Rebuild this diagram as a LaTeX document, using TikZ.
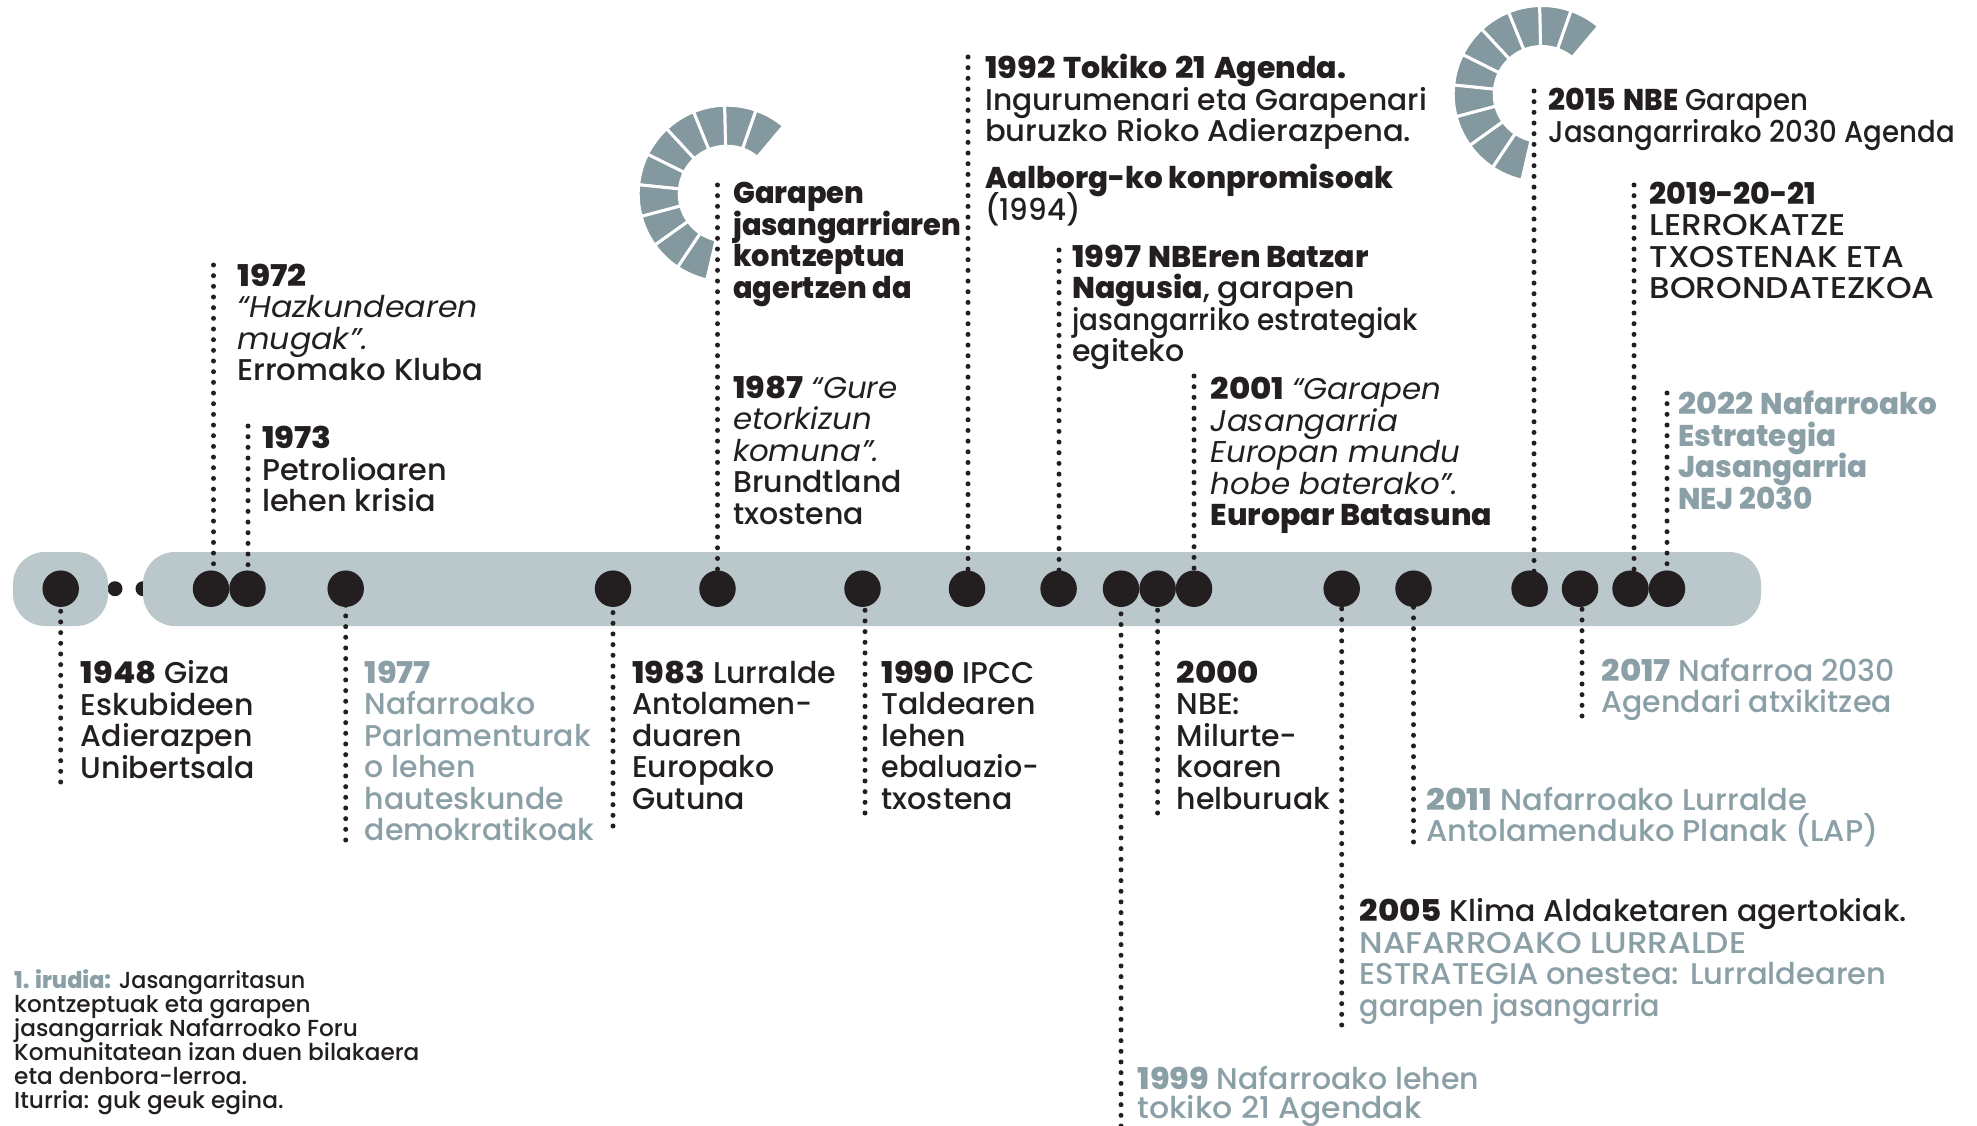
\documentclass[tikz,border=0pt]{standalone}
\usepackage{fontspec}
\setmainfont[BoldFont={Poppins ExtraBold},ItalicFont={Poppins Italic},ItalicFeatures={FakeStretch=1.03},BoldItalicFont={Poppins Bold Italic}]{Poppins Medium}
\definecolor{inkblack}{HTML}{231F20}
\definecolor{barblue}{HTML}{BAC7CB}
\definecolor{txtgrey}{HTML}{8BA0A6}
\definecolor{logogrey}{HTML}{83989F}
\newcommand{\yrb}[1]{\textbf{\scalebox{1.08}[1]{#1}}}
\newcommand{\lsx}[2]{\scalebox{#1}[1]{#2}}
\tikzset{
  bartrack/.style={fill=barblue,rounded corners=32pt},
  evdot/.style={circle,fill=inkblack,minimum size=36.5pt,inner sep=0pt},
  smalldot/.style={circle,fill=inkblack,minimum size=15pt,inner sep=0pt},
  dotline/.style={inkblack,line width=5pt,line cap=round,dash pattern=on 0pt off 10.67pt},
  evtxt/.style={anchor=north west,align=left,inner sep=0pt,text=inkblack,
    font=\fontsize{30}{31.5}\selectfont,execute at begin node={\lineskiplimit=-100pt\strut}},
  greytxt/.style={evtxt,text=txtgrey},
  captxt/.style={anchor=north west,align=left,inner sep=0pt,text=inkblack,
    font=\fontsize{23.2}{24}\selectfont,execute at begin node={\lineskiplimit=-100pt\strut}},
  sx/.style={xscale=#1,transform shape}
}
\begin{document}
\begin{tikzpicture}[x=1pt,y=-1pt]
  \useasboundingbox (0,0) rectangle (1977,1126);

  % logos
  \foreach \cx/\cy in {726.7/193.7,1541.7/94}
    \foreach \k in {0,...,9}
      \fill[logogrey,draw=white,line width=3pt]
        ({\cx+88.5*cos(50+20.7*\k)},{\cy-88.5*sin(50+20.7*\k)})
        arc[start angle={-50-20.7*\k},end angle={-50-20.7*(\k+1)},radius=88.5]
        -- ({\cx+47.5*cos(50+20.7*(\k+1))},{\cy-47.5*sin(50+20.7*(\k+1))})
        arc[start angle={-50-20.7*(\k+1)},end angle={-50-20.7*\k},radius=47.5]
        -- cycle;

  % timeline
  \node[smalldot] (s1) at (115,588.7) {};
  \node[smalldot] (s2) at (143,588.7) {};
  \fill[bartrack]  (13,552)  rectangle (108,626);
  \fill[bartrack]  (143,552) rectangle (1761,626);

  \foreach \yr/\px in {1948/60.7,1972/211,1973/247.5,1977/345.7,1983/613,1987/717.5,
                       1990/862.5,1992/967,1997/1058.6,1999/1121,2000/1157.6,2001/1194,
                       2005/1341.7,2011/1413.5,2015/1529.6,2017/1580,2019/1630.5,2022/1667}
    \node[evdot] (d\yr) at (\px,588.7) {};

  % free ends
  \coordinate (e1948) at (60.7,782);
  \coordinate (e1972) at (213.5,265);
  \coordinate (e1973) at (248,426);
  \coordinate (e1977) at (345.7,840);
  \coordinate (e1983) at (613,826);
  \coordinate (e1987) at (717.5,185);
  \coordinate (e1990) at (865,813);
  \coordinate (e1992) at (968,57);
  \coordinate (e1997) at (1059,250);
  \coordinate (e1999) at (1121,1126);
  \coordinate (e2000) at (1157.6,813);
  \coordinate (e2001) at (1194,376);
  \coordinate (e2005) at (1341.7,1025);
  \coordinate (e2011) at (1413.5,842);
  \coordinate (e2015) at (1534,91);
  \coordinate (e2017) at (1582,716);
  \coordinate (e2019) at (1634,185);
  \coordinate (e2022) at (1667,393);

  \foreach \yr in {1948,1972,1973,1977,1983,1987,1990,1992,1997,1999,2000,2001,2005,2011,2015,2017,2019,2022}
    \draw[dotline] (e\yr) -- (e\yr |- d\yr);

  % texts, top = baseline - 22
  \node[evtxt]   (t1948) at (80.7,660.6)  {\yrb{1948} Giza\\Eskubideen\\Adierazpen\\Unibertsala};
  \node[evtxt,sx=1.025] (t1972) at (237,263.4) {\yrb{1972}\\\textit{“Hazkundearen}\\\textit{mugak”.}\\Erromako Kluba};
  \node[evtxt,sx=1.01]  (t1973) at (262,426)   {\yrb{1973}\\Petrolioaren\\lehen krisia};
  \node[greytxt] (t1977) at (364.5,660.6) {\yrb{1977}\\Nafarroako\\Parlamenturak\\o lehen\\hauteskunde\\demokratikoak};
  \node[evtxt]   (t1983) at (632,660.6)   {\yrb{1983} Lurralde\\\lsx{.97}{Antolamen-}\\duaren\\Europako\\Gutuna};
  \node[evtxt,sx=.96] (tgar) at (733,182.4) {\textbf{Garapen}\\\textbf{jasangarriaren}\\\textbf{kontzeptua}\\\textbf{agertzen da}};
  \node[evtxt]   (t1987) at (733,375.6)   {\yrb{1987} \textit{“Gure}\\\textit{etorkizun}\\\textit{komuna”.}\\Brundtland\\txostena};
  \node[evtxt]   (t1990) at (881.5,660.6) {\yrb{1990} IPCC\\Taldearen\\lehen\\\lsx{.95}{ebaluazio-}\\txostena};
  \node[evtxt]   (t1992) at (985,54.3)    {\yrb{1992} \textbf{Tokiko} \yrb{21} \textbf{Agenda.}\\\lsx{.99}{Ingurumenari eta Garapenari}\\\lsx{1.02}{buruzko Rioko Adierazpena.}};
  \node[evtxt,sx=.98] (taal) at (985,164) {\textbf{Aalborg-ko konpromisoak}\\(1994)};
  \node[evtxt]   (t1997) at (1072,244.4)  {\yrb{1997} \textbf{NBEren Batzar}\\\textbf{Nagusia}, \lsx{1.05}{garapen}\\\lsx{.93}{jasangarriko estrategiak}\\egiteko};
  \node[evtxt]   (t2000) at (1176.5,660.6){\yrb{2000}\\NBE:\\Milurte-\\koaren\\helburuak};
  \node[greytxt] (t1999) at (1137.5,1066.5) {\yrb{1999} Nafarroako lehen\\[-2.5pt]\lsx{1.05}{tokiko 21 Agendak}};
  \node[evtxt]   (t2001) at (1210.5,377)  {\yrb{2001} \textit{“Garapen}\\\textit{Jasangarria}\\\textit{Europan mundu}\\\textit{hobe baterako”.}\\\textbf{Europar Batasuna}};
  \node[evtxt]   (t2005) at (1359.4,898.5){\yrb{2005} Klima Aldaketaren agertokiak.\\\textcolor{txtgrey}{\lsx{1.09}{NAFARROAKO LURRALDE}}\\\textcolor{txtgrey}{\lsx{1.02}{ESTRATEGIA onestea: Lurraldearen}}\\\textcolor{txtgrey}{\lsx{.955}{garapen jasangarria}}};
  \node[greytxt,sx=1.02] (t2011) at (1426,786.7) {\yrb{2011} Nafarroako Lurralde\\Antolamenduko Planak (LAP)};
  \node[evtxt,sx=.92] (t2015) at (1548.5,88) {\yrb{2015} \textbf{NBE} Garapen\\Jasangarrirako 2030 Agenda};
  \node[greytxt] (t2017) at (1601.5,658)  {\yrb{2017} Nafarroa 2030\\Agendari atxikitzea};
  \node[evtxt]   (t2019) at (1649.5,181.4){\textbf{2019-20-21}\\\lsx{1.09}{LERROKATZE}\\\lsx{1.09}{TXOSTENAK ETA}\\\lsx{1.09}{BORONDATEZKOA}};
  \node[greytxt,sx=.98] (t2022) at (1678,390.7) {\yrb{2022} \textbf{Nafarroako}\\\textbf{Estrategia}\\\textbf{Jasangarria}\\\textbf{NEJ 2030}};

  \node[captxt]  (tcap)  at (14,968.9)    {\lsx{.96}{\textbf{\textcolor{txtgrey}{1. irudia:}} Jasangarritasun}\\kontzeptuak eta garapen\\jasangarriak Nafarroako Foru\\Komunitatean izan duen bilakaera\\eta denbora-lerroa.\\Iturria: guk geuk egina.};
\end{tikzpicture}
\end{document}
